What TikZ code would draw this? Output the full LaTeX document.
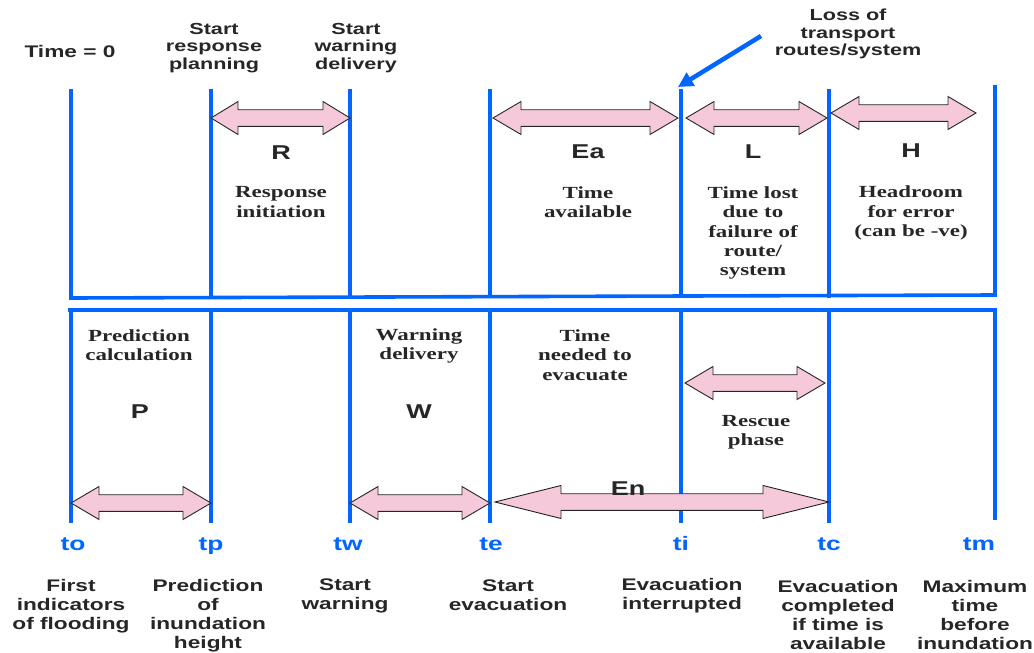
\documentclass[tikz,border=0pt]{standalone}
\usepackage{fontspec}
\newfontfamily\hsans[FakeStretch=1.35]{Liberation Sans}
\newfontfamily\hserif[FakeStretch=1.35]{Liberation Serif}
\usetikzlibrary{arrows.meta}
\definecolor{lineblue}{RGB}{0,102,255}
\definecolor{spanpink}{RGB}{245,200,218}
\definecolor{txt}{RGB}{38,38,38}
\newcommand\spanarrow[4]{%
  \draw[spanstyle] ({#1},{#3}) -- ({#1+#4},{#3-16.5}) -- ({#1+#4},{#3-8.3}) -- ({#2-#4},{#3-8.3}) -- ({#2-#4},{#3-16.5}) -- ({#2},{#3}) -- ({#2-#4},{#3+16.5}) -- ({#2-#4},{#3+8.3}) -- ({#1+#4},{#3+8.3}) -- ({#1+#4},{#3+16.5}) -- cycle;}
\begin{document}
\begin{tikzpicture}[x=1pt,y=-1pt,
  tline/.style={draw=lineblue,line width=3.6pt},
  spanstyle/.style={draw=txt,fill=spanpink,line width=0.9pt,line join=miter},
  toplab/.style={text=txt,align=center,inner sep=0pt,font=\hsans\bfseries\fontsize{16}{17.7}\selectfont},
  botlab/.style={text=txt,align=center,inner sep=0pt,font=\hsans\bfseries\fontsize{16.8}{19}\selectfont},
  serlab/.style={text=txt,align=center,inner sep=0pt,font=\hserif\bfseries\fontsize{17}{19.4}\selectfont},
  biglab/.style={text=txt,inner sep=0pt,font=\hsans\bfseries\fontsize{20}{22}\selectfont},
  tlab/.style={text=lineblue,inner sep=0pt,anchor=base,font=\hsans\bfseries\fontsize{19.5}{22}\selectfont}]
\useasboundingbox (0,0) rectangle (1034,653);
% frame coordinates
\coordinate (toU) at (71,89);  \coordinate (toB) at (71,298);
\coordinate (tmB) at (995,295); \coordinate (tmU) at (995,85);
\coordinate (lowL) at (68,310); \coordinate (lowR) at (995,310); \coordinate (tmL) at (995,520);
% upper frame
\draw[tline,line join=miter] (toU) -- (toB) -- (tmB) -- (tmU);
% lower frame
\draw[tline,line join=miter] (lowL) -- (lowR) -- (tmL);
% inner vertical lines
\foreach \x in {211,350,490,681,829}{
  \draw[tline] (\x,89) -- (\x,298);
  \draw[tline] (\x,310) -- (\x,523);
}
\draw[tline] (71,310) -- (71,523);
% spans
\spanarrow{211}{350}{118}{27}
\spanarrow{493}{678}{118}{28}
\spanarrow{686}{827}{118}{28}
\spanarrow{831}{976}{113}{28}
\spanarrow{71}{211}{503}{28}
\spanarrow{350}{490}{503}{28}
\spanarrow{495}{829}{502}{66}
\spanarrow{685}{825}{383}{28}
% loss arrow
\coordinate (lossfrom) at (761,36);
\coordinate (titop) at (678,87);
\draw[draw=lineblue,line width=4.5pt,-{Triangle[length=15pt,width=15pt]}] (lossfrom) -- (titop);
% top labels
\node[toplab,font=\hsans\bfseries\fontsize{16.8}{19}\selectfont] (time0) at (70,51) {Time = 0};
\node[toplab] (srp) at (214,48) {Start\\response\\planning};
\node[toplab] (swd) at (356,48) {Start\\warning\\delivery};
\node[toplab] (loss) at (848,34) {Loss of\\transport\\routes/system};
% upper section
\node[biglab] (R) at (281,153) {R};
\node[biglab] (Ea) at (588,152) {Ea};
\node[biglab] (L) at (753,152) {L};
\node[biglab] (H) at (911,151) {H};
\node[serlab] (resp) at (281,202) {Response\\initiation};
\node[serlab] (tavail) at (588,202) {Time\\available};
\node[serlab] (tlost) at (753,233) {Time lost\\due to\\failure of\\route/\\system};
\node[serlab] (head) at (911,213) {Headroom\\for error\\(can be -ve)};
% lower section
\node[serlab] (predc) at (139,345) {Prediction\\calculation};
\node[biglab] (P) at (140,412) {P};
\node[serlab] (wdel) at (419,346) {Warning\\delivery};
\node[biglab] (W) at (419,412) {W};
\node[serlab] (tneed) at (585,355) {Time\\needed to\\evacuate};
\node[serlab] (rescue) at (756,432) {Rescue\\phase};
\node[biglab] (En) at (628,489) {En};
% time labels
\node[tlab] (to) at (73,550) {to};
\node[tlab] (tp) at (211,550) {tp};
\node[tlab] (tw) at (348,550) {tw};
\node[tlab] (te) at (491,550) {te};
\node[tlab] (ti) at (681,550) {ti};
\node[tlab] (tc) at (829,550) {tc};
\node[tlab] (tm) at (979,550) {tm};
% bottom labels
\node[botlab] (b1) at (71,606) {First\\indicators\\of flooding};
\node[botlab] (b2) at (208,615.5) {Prediction\\of\\inundation\\height};
\node[botlab] (b3) at (345,596) {Start\\warning};
\node[botlab] (b4) at (508,595.5) {Start\\evacuation};
\node[botlab] (b5) at (682,596) {Evacuation\\interrupted};
\node[botlab] (b6) at (838,614.5) {Evacuation\\completed\\if time is\\available};
\node[botlab] (b7) at (975,614.5) {Maximum\\time\\before\\inundation};
\end{tikzpicture}
\end{document}
